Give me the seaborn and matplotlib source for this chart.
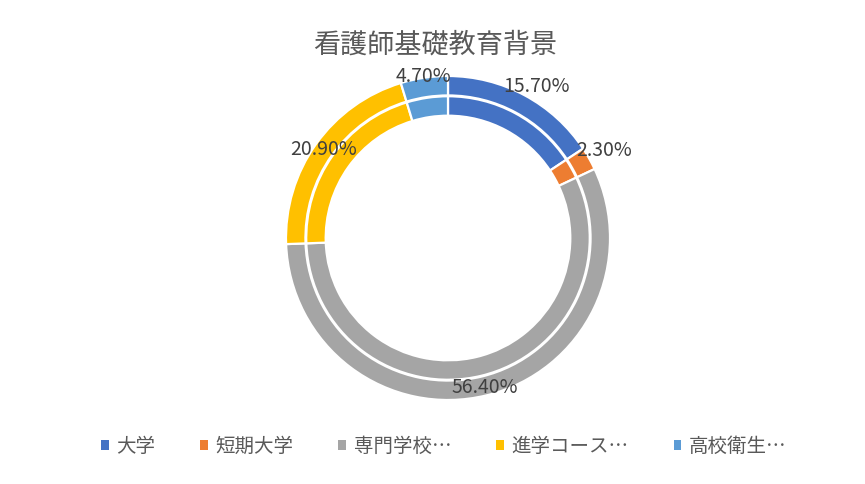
import numpy as np
import seaborn as sns
import matplotlib.pyplot as plt
from matplotlib.patches import Patch

# data
categories = ['大学', '短期大学', '専門学校…', '進学コース…', '高校衛生…']
outer_pct = [15.7, 2.3, 56.4, 20.9, 4.7]
inner_pct = [15.7, 2.3, 56.4, 20.9, 4.7]
title = '看護師基礎教育背景'

# style
sns.set_theme(style='white')
plt.rcParams['font.family'] = ['Noto Sans CJK JP', 'DejaVu Sans']
colors = sns.color_palette(['#4472C4', '#ED7D31', '#A5A5A5', '#FFC000', '#5B9BD5'])

W, H = 865, 484
fig = plt.figure(figsize=(W / 100, H / 100), dpi=100)
cx, cy, R = 448, 246, 162   # centre (from bottom) and radius in px
ax = fig.add_axes([(cx - R) / W, (cy - R) / H, 2 * R / W, 2 * R / H])

wedge = dict(edgecolor='white', linewidth=1.6)
ax.pie(outer_pct, radius=1.0, colors=colors, startangle=90, counterclock=False,
       wedgeprops=dict(width=0.12, **wedge))
ax.pie(inner_pct, radius=0.875, colors=colors, startangle=90, counterclock=False,
       wedgeprops=dict(width=0.12, **wedge))
ax.set_xlim(-1, 1)
ax.set_ylim(-1, 1)
ax.set_aspect('equal')
ax.axis('off')

# data labels on the outer ring
lab_r = [1.08, 1.105, 0.95, 0.945, 1.01]
lab_turn = [2.0, 0, 0, 0, 0]   # small angular nudge (deg)
cum = np.cumsum([0] + outer_pct[:-1])
for v, c0, r, t in zip(outer_pct, cum, lab_r, lab_turn):
    ang = np.deg2rad(90 - (c0 + v / 2) * 3.6 - t)
    ax.text(r * np.cos(ang), r * np.sin(ang), f'{v:.2f}%', ha='center', va='center',
            fontsize=14, color='#404040', clip_on=False)

fig.text(0.503, 0.907, title, ha='center', va='center', fontsize=19.5, color='#595959')

handles = [Patch(facecolor=c, edgecolor='none') for c in colors]
fig.legend(handles, categories, loc='center', bbox_to_anchor=(0.513, 0.078), ncol=5,
           frameon=False, fontsize=14, labelcolor='#595959', handlelength=0.4,
           handleheight=0.4, handletextpad=0.4, columnspacing=2.3)

fig.savefig('out.png', dpi=100)
plt.close()
